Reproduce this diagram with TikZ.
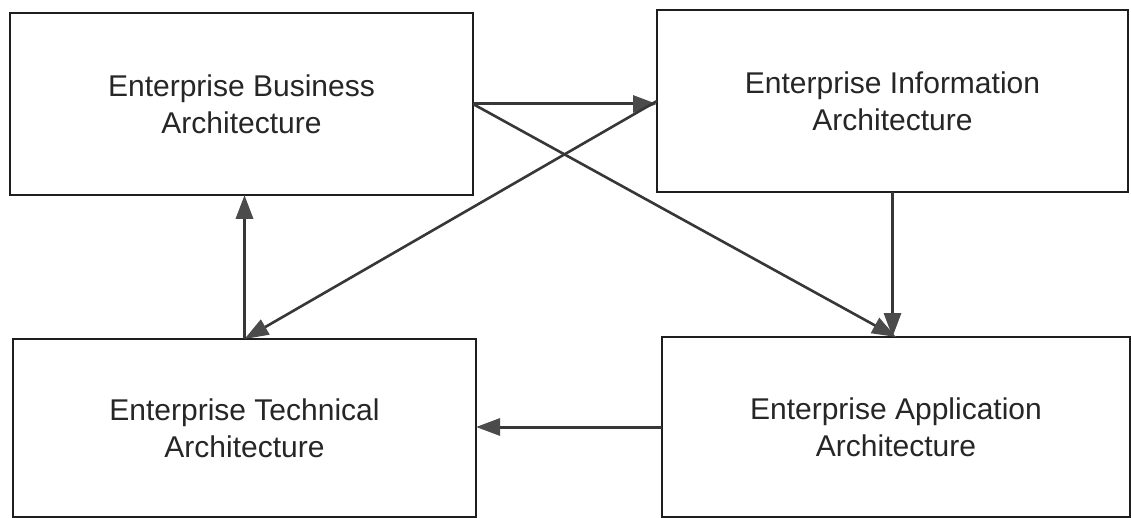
\documentclass[tikz,border=0pt]{standalone}
\usepackage{fontspec}
\setmainfont{Liberation Sans}
\usetikzlibrary{arrows.meta}
\definecolor{boxline}{RGB}{30,30,30}
\definecolor{arrowgray}{RGB}{55,55,55}
\definecolor{headgray}{RGB}{75,75,75}
\tikzset{
  archbox/.style={draw=boxline, line width=2pt, rectangle, align=center,
    inner sep=0pt, outer sep=0pt, text=black!85,
    font=\fontsize{30}{37}\selectfont},
  flow/.style={draw=arrowgray, line width=3pt,
    -{Triangle[length=24pt,width=17pt,fill=headgray,color=headgray]}},
  flowthin/.style={flow, line width=2.6pt}
}
\begin{document}
\begin{tikzpicture}[x=1pt,y=-1pt]
\useasboundingbox (0,0) rectangle (1131,518);
\fill[white] (0,0) rectangle (1131,518);
\node[archbox, minimum width=463pt, minimum height=182pt] (eba) at (241.5,104) {Enterprise Business\\Architecture};
\node[archbox, minimum width=471pt, minimum height=182pt] (eia) at (892.5,101) {Enterprise Information\\Architecture};
\node[archbox, minimum width=463pt, minimum height=178pt] (eta) at (244.5,428) {Enterprise Technical\\Architecture};
\node[archbox, minimum width=468pt, minimum height=180pt] (eaa) at (896,427) {Enterprise Application\\Architecture};
\draw[flow] (eba.east) -- (eba.east -| eia.west);
\draw[flowthin] (eba.east) -- (eaa.north);
\draw[flowthin] (eia.west) -- (eta.north);
\draw[flow] (eia.south) -- (eia.south |- eaa.north);
\draw[flow] (eaa.west) -- (eaa.west -| eta.east);
\draw[flow, line width=3.5pt] (eta.north) -- (eba.south -| eta.north);
\end{tikzpicture}
\end{document}
